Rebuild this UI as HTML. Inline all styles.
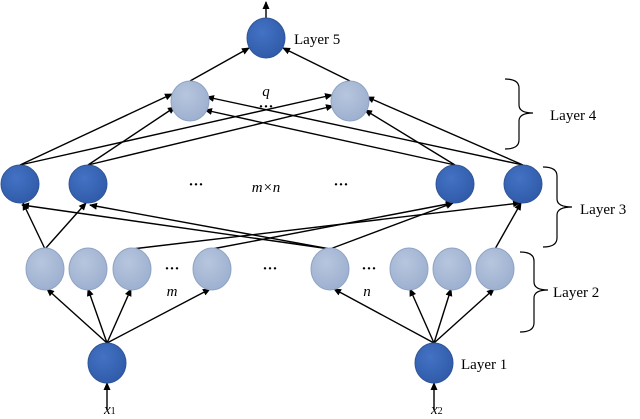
<!DOCTYPE html>
<html><head><style>body{margin:0;background:#fff}</style></head><body>
<svg width="640" height="414" viewBox="0 0 640 414" xmlns="http://www.w3.org/2000/svg" font-family="Liberation Serif, serif">
<defs>
<marker id="a" markerWidth="8" markerHeight="8" refX="7" refY="4" orient="auto" markerUnits="userSpaceOnUse"><path d="M0,0.5 L8,4 L0,7.5 Z" fill="#000"/></marker>
<radialGradient id="d" cx="40%" cy="35%" r="70%"><stop offset="0" stop-color="#4472c4"/><stop offset="1" stop-color="#2f5aa8"/></radialGradient>
<radialGradient id="l" cx="40%" cy="35%" r="70%"><stop offset="0" stop-color="#b7c6de"/><stop offset="1" stop-color="#9cafcf"/></radialGradient>
</defs>
<g stroke="#000" stroke-width="1.4" fill="none" marker-end="url(#a)">
<line x1="266" y1="19" x2="266" y2="2"/>
<line x1="190" y1="81" x2="249" y2="48"/>
<line x1="350" y1="81" x2="283" y2="48"/>
<line x1="20" y1="165" x2="172" y2="94"/>
<line x1="20" y1="165" x2="332" y2="95"/>
<line x1="88" y1="165" x2="175" y2="107"/>
<line x1="88" y1="165" x2="333" y2="106"/>
<line x1="455" y1="165" x2="205" y2="110"/>
<line x1="455" y1="165" x2="365" y2="110"/>
<line x1="523" y1="165" x2="207" y2="97"/>
<line x1="523" y1="165" x2="367" y2="97"/>
<line x1="45" y1="249" x2="23" y2="203"/>
<line x1="45" y1="249" x2="86" y2="203"/>
<line x1="132" y1="249" x2="520" y2="203"/>
<line x1="212" y1="249" x2="453" y2="203"/>
<line x1="330" y1="249" x2="22" y2="205"/>
<line x1="330" y1="249" x2="90" y2="205"/>
<line x1="330" y1="249" x2="453" y2="203"/>
<line x1="495" y1="249" x2="521" y2="203"/>
<line x1="107" y1="343" x2="47" y2="289"/>
<line x1="107" y1="343" x2="88" y2="289"/>
<line x1="107" y1="343" x2="131" y2="289"/>
<line x1="107" y1="343" x2="210" y2="289"/>
<line x1="434" y1="343" x2="334" y2="289"/>
<line x1="434" y1="343" x2="410" y2="289"/>
<line x1="434" y1="343" x2="451" y2="289"/>
<line x1="434" y1="343" x2="494" y2="289"/>
<line x1="107" y1="410" x2="107" y2="383"/>
<line x1="434" y1="410" x2="434" y2="383"/>
</g>
<g stroke="#2f5597" stroke-width="1" fill="url(#d)">
<ellipse cx="266" cy="38" rx="19" ry="20"/>
<ellipse cx="20" cy="184" rx="19" ry="19"/>
<ellipse cx="88" cy="184" rx="19" ry="19"/>
<ellipse cx="455" cy="184" rx="19" ry="19"/>
<ellipse cx="523" cy="184" rx="19" ry="19"/>
<ellipse cx="107" cy="363" rx="19" ry="20"/>
<ellipse cx="434" cy="363" rx="19" ry="20"/>
</g>
<g stroke="#8fa3c4" stroke-width="1" fill="url(#l)">
<ellipse cx="190" cy="101" rx="19" ry="20"/>
<ellipse cx="350" cy="101" rx="19" ry="20"/>
<ellipse cx="45" cy="269" rx="19" ry="21"/>
<ellipse cx="88" cy="269" rx="19" ry="21"/>
<ellipse cx="132" cy="269" rx="19" ry="21"/>
<ellipse cx="212" cy="269" rx="19" ry="21"/>
<ellipse cx="330" cy="269" rx="19" ry="21"/>
<ellipse cx="409" cy="269" rx="19" ry="21"/>
<ellipse cx="452" cy="269" rx="19" ry="21"/>
<ellipse cx="495" cy="269" rx="19" ry="21"/>
</g>
<g stroke="#000" stroke-width="1.2" fill="none">
<path d="M505,79 Q519,79 519,88 L519,105 Q519,113 533,113 Q519,113 519,121 L519,140 Q519,149 505,149"/>
<path d="M543,167 Q557,167 557,176 L557,199 Q557,207 572,207 Q557,207 557,215 L557,238 Q557,247 543,247"/>
<path d="M520,252 Q534,252 534,261 L534,282 Q534,290 548,290 Q534,290 534,298 L534,323 Q534,332 520,332"/>
</g>
<g font-size="15" fill="#000">
<text x="294" y="44">Layer 5</text>
<text x="550" y="120">Layer 4</text>
<text x="580" y="214">Layer 3</text>
<text x="553" y="297">Layer 2</text>
<text x="461" y="369">Layer 1</text>
<text x="266" y="96" font-style="italic" text-anchor="middle">q</text>
<text x="266" y="111" text-anchor="middle" font-weight="bold">···</text>
<text x="196" y="189" text-anchor="middle" font-weight="bold">···</text>
<text x="341" y="189" text-anchor="middle" font-weight="bold">···</text>
<text x="266" y="192" text-anchor="middle" font-style="italic">m×n</text>
<text x="172" y="273" text-anchor="middle" font-weight="bold">···</text>
<text x="270" y="273" text-anchor="middle" font-weight="bold">···</text>
<text x="369" y="273" text-anchor="middle" font-weight="bold">···</text>
<text x="172" y="296" text-anchor="middle" font-style="italic">m</text>
<text x="367" y="296" text-anchor="middle" font-style="italic">n</text>
<text x="104" y="414" font-style="italic">x<tspan font-size="10" font-style="normal">1</tspan></text>
<text x="431" y="414" font-style="italic">x<tspan font-size="10" font-style="normal">2</tspan></text>
</g>
</svg>
</body></html>
